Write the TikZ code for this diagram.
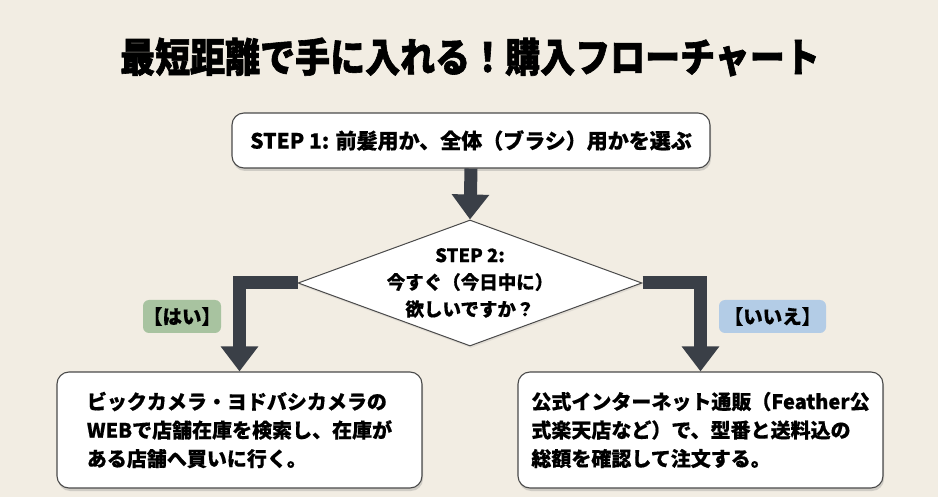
\documentclass[tikz,border=0pt]{standalone}
\usepackage{fontspec}
\setmainfont{Noto Sans CJK JP}[BoldFeatures={FakeBold=0.5}]
\newfontfamily\titlefont{Noto Sans CJK JP}[BoldFeatures={FakeBold=1.5, FakeStretch=0.875}]
\usetikzlibrary{shapes.geometric, arrows.meta, shadows}
\definecolor{bg}{HTML}{F2EDE3}
\definecolor{arr}{HTML}{3A3F47}
\definecolor{yesg}{HTML}{A8C3A0}
\definecolor{nob}{HTML}{B3CCE6}
\definecolor{bd}{HTML}{4A4A4A}
\tikzset{
  box/.style={draw=bd, line width=1.1pt, fill=white, rounded corners=12pt,
    drop shadow={shadow xshift=1pt, shadow yshift=-3pt, opacity=0.3},
    font=\bfseries\fontsize{20}{28.5}\selectfont, inner sep=0pt},
  arrowline/.style={draw=arr, line width=13pt, line join=miter,
    -{Triangle[length=25pt, width=36pt]}},
  tag/.style={rounded corners=6pt, minimum height=33pt, inner sep=0pt,
    font=\bfseries\fontsize{19.5}{19.5}\selectfont}
}
\begin{document}
\begin{tikzpicture}[x=1pt, y=-1pt]
\fill[bg] (0,0) rectangle (938,497);
\useasboundingbox (0,0) rectangle (938,497);

\node[font=\titlefont\bfseries\fontsize{40}{40}\selectfont] (title) at (470,57) {最短距離で手に入れる！購入フローチャート};

\node[box, minimum width=478pt, minimum height=55pt, font=\bfseries\fontsize{21}{21}\selectfont] (s1) at (471,140.5) {STEP 1: 前髪用か、全体（ブラシ）用かを選ぶ};

\node[diamond, draw=bd, line width=1pt, fill=white, minimum width=344pt, minimum height=126pt, inner sep=0pt,
  drop shadow={shadow xshift=1pt, shadow yshift=-2pt, opacity=0.15}] (d) at (470,283) {};
\node[align=center, font=\bfseries\fontsize{18.5}{27}\selectfont] (dt) at (d.center) {STEP 2:\\今すぐ（今日中に）\\欲しいですか？};

\node[tag, fill=yesg, minimum width=78pt] (yes) at (182,316.5) {【はい】};
\node[tag, fill=nob, minimum width=107pt] (no) at (772.5,316.5) {【いいえ】};

\node[box, minimum width=365pt, minimum height=116pt, align=left] (lb) at (239.5,430) {ビックカメラ・ヨドバシカメラの\\WEBで店舗在庫を検索し、在庫が\\ある店舗へ買いに行く。};
\node[box, minimum width=365pt, minimum height=116pt, align=left] (rb) at (700.5,430) {公式インターネット通販（Feather公\\式楽天店など）で、型番と送料込の\\総額を確認して注文する。};

\draw[arrowline] (s1.south) -- (d.north);
\draw[arrowline] (d.west) -| (lb.north);
\draw[arrowline] (d.east) -| (rb.north);
\end{tikzpicture}
\end{document}
